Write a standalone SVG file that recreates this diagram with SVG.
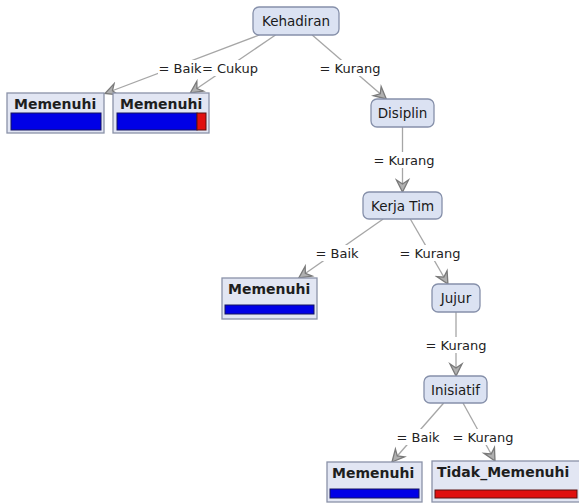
<svg xmlns="http://www.w3.org/2000/svg" width="579" height="504" viewBox="0 0 579 504">
  <defs>
    <marker id="arr" markerUnits="userSpaceOnUse" markerWidth="16" markerHeight="16" viewBox="-14 -8 16 16" refX="0" refY="0" orient="auto">
      <path d="M-12,-6 L0,0 L-12,6 L-8,0 Z" fill="#b0b0b0" stroke="#7a7a7a" stroke-width="1.3" stroke-linejoin="miter"/>
    </marker>
  </defs>
  <style>
    .edge { stroke: #a6a6a6; stroke-width: 1.3; fill: none; marker-end: url(#arr); }
    .lblbg { fill: #ffffff; }
    .lbl { font-family: "DejaVu Sans", Verdana, sans-serif; font-size: 13px; fill: #222222; text-anchor: middle; }
    .inner rect { fill: #dbe2f2; stroke: #8690aa; stroke-width: 1.3; }
    .inner text { font-family: "DejaVu Sans", Verdana, sans-serif; font-size: 13.5px; fill: #1a1a1a; text-anchor: middle; }
    .leaf .box { fill: #e2e6f3; stroke: #8a92a8; stroke-width: 1.3; }
    .leaf text { font-family: "DejaVu Sans", Verdana, sans-serif; font-size: 14px; font-weight: bold; fill: #1e1e1e; }
    .blue { fill: #0000e6; stroke: #151560; stroke-width: 1; }
    .red { fill: #e01010; stroke: #5a1010; stroke-width: 1; }
  </style>
  <rect width="579" height="504" fill="#ffffff"/>

  <g id="connectors">
    <line class="edge" x1="259.4" y1="35" x2="105" y2="93.5"/>
    <line class="edge" x1="275.5" y1="35" x2="190.3" y2="93"/>
    <line class="edge" x1="312.2" y1="35" x2="386.3" y2="99"/>
    <line class="edge" x1="402.5" y1="127" x2="402.5" y2="192"/>
    <line class="edge" x1="383.2" y1="219" x2="298.8" y2="278"/>
    <line class="edge" x1="410.3" y1="219" x2="447.9" y2="284"/>
    <line class="edge" x1="456" y1="312" x2="456" y2="376"/>
    <line class="edge" x1="443.7" y1="403" x2="392" y2="462"/>
    <line class="edge" x1="463" y1="403" x2="495" y2="461"/>

    <rect class="lblbg" x="158" y="60" width="43" height="16"/>
    <text class="lbl" x="180" y="73">= Baik</text>
    <rect class="lblbg" x="203" y="60" width="55" height="16"/>
    <text class="lbl" x="230" y="73">= Cukup</text>
    <rect class="lblbg" x="319" y="60" width="62" height="16"/>
    <text class="lbl" x="350" y="73">= Kurang</text>
    <rect class="lblbg" x="373" y="152" width="62" height="16"/>
    <text class="lbl" x="404" y="165">= Kurang</text>
    <rect class="lblbg" x="315" y="245" width="44" height="16"/>
    <text class="lbl" x="337" y="258">= Baik</text>
    <rect class="lblbg" x="399" y="245" width="62" height="16"/>
    <text class="lbl" x="430" y="258">= Kurang</text>
    <rect class="lblbg" x="425" y="337" width="62" height="16"/>
    <text class="lbl" x="456" y="350">= Kurang</text>
    <rect class="lblbg" x="396" y="429" width="44" height="16"/>
    <text class="lbl" x="418" y="442">= Baik</text>
    <rect class="lblbg" x="452" y="429" width="62" height="16"/>
    <text class="lbl" x="483" y="442">= Kurang</text>
  </g>

  <g id="node-kehadiran" class="inner">
    <rect x="253" y="7" width="86" height="28" rx="6"/>
    <text x="296" y="26">Kehadiran</text>
  </g>
  <g id="node-disiplin" class="inner">
    <rect x="371" y="99" width="63" height="28" rx="6"/>
    <text x="402.5" y="118">Disiplin</text>
  </g>
  <g id="node-kerjatim" class="inner">
    <rect x="363" y="192" width="79" height="27" rx="6"/>
    <text x="402.5" y="210.5">Kerja Tim</text>
  </g>
  <g id="node-jujur" class="inner">
    <rect x="432" y="284" width="48" height="28" rx="6"/>
    <text x="456" y="303">Jujur</text>
  </g>
  <g id="node-inisiatif" class="inner">
    <rect x="424" y="376" width="63" height="27" rx="6"/>
    <text x="455.5" y="394.5">Inisiatif</text>
  </g>

  <g id="leaf-1" class="leaf">
    <rect class="box" x="7" y="93" width="97" height="40"/>
    <text x="14" y="109">Memenuhi</text>
    <rect class="blue" x="11" y="113" width="90" height="17"/>
  </g>
  <g id="leaf-2" class="leaf">
    <rect class="box" x="113" y="93" width="96" height="40"/>
    <text x="120" y="109">Memenuhi</text>
    <rect class="blue" x="117" y="113" width="80" height="17"/>
    <rect class="red" x="197" y="113" width="9" height="17"/>
  </g>
  <g id="leaf-3" class="leaf">
    <rect class="box" x="222" y="278" width="95" height="41"/>
    <text x="228" y="294">Memenuhi</text>
    <rect class="blue" x="225" y="305" width="89" height="9"/>
  </g>
  <g id="leaf-4" class="leaf">
    <rect class="box" x="327" y="462" width="95" height="40"/>
    <text x="332" y="478">Memenuhi</text>
    <rect class="blue" x="330" y="489" width="89" height="9"/>
  </g>
  <g id="leaf-5" class="leaf">
    <rect class="box" x="432" y="461" width="150" height="41"/>
    <text x="437" y="477">Tidak_Memenuhi</text>
    <rect class="red" x="435" y="490" width="142" height="8"/>
  </g>
</svg>
